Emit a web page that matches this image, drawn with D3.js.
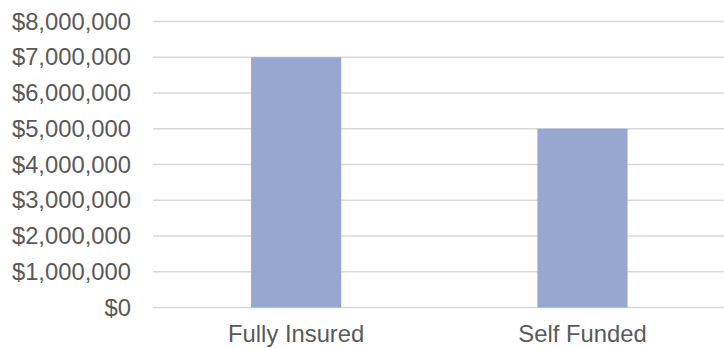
<!DOCTYPE html>
<html>
<head>
<meta charset="utf-8">
<script src="https://cdn.jsdelivr.net/npm/d3@7"></script>
<style>
  body { margin: 0; background: #fff; }
  text { font-family: "Liberation Sans", Arial, sans-serif; fill: #595959; }
</style>
</head>
<body>
<div id="chart"></div>
<script>
const categories = ['Fully Insured', 'Self Funded'];
const values = [7000000, 5000000];
const yTicks = [0, 1000000, 2000000, 3000000, 4000000, 5000000, 6000000, 7000000, 8000000];

const width = 724;
const height = 348;
const plot = { left: 153, right: 725.6, top: 21.5, bottom: 307.5 };

const svg = d3.select('#chart').append('svg')
  .attr('width', width)
  .attr('height', height);

const x = d3.scaleBand()
  .domain(categories)
  .range([plot.left, plot.right])
  .paddingInner(0.685)
  .paddingOuter(0.3425);

const y = d3.scaleLinear()
  .domain([0, 8000000])
  .range([plot.bottom, plot.top]);

const fmt = d3.format('$,');

// gridlines
svg.append('g')
  .selectAll('line')
  .data(yTicks)
  .join('line')
  .attr('x1', plot.left)
  .attr('x2', width)
  .attr('y1', d => y(d))
  .attr('y2', d => y(d))
  .attr('stroke', '#d9d9d9')
  .attr('stroke-width', 1.3);

// y axis labels
const yAxis = svg.append('g')
  .attr('transform', 'translate(131,0)')
  .call(d3.axisLeft(y).tickValues(yTicks).tickFormat(fmt).tickSize(0).tickPadding(0));
yAxis.select('.domain').remove();
yAxis.selectAll('text')
  .attr('font-size', 23.8)
  .attr('font-family', '"Liberation Sans", Arial, sans-serif')
  .attr('fill', '#595959');

// bars
svg.append('g')
  .selectAll('rect')
  .data(values)
  .join('rect')
  .attr('x', (d, i) => x(categories[i]))
  .attr('y', d => y(d))
  .attr('width', x.bandwidth())
  .attr('height', d => y(0) - y(d))
  .attr('fill', '#97a7cf');

// x axis labels
const xAxis = svg.append('g')
  .attr('transform', `translate(0,${plot.bottom})`)
  .call(d3.axisBottom(x).tickSize(0).tickPadding(18));
xAxis.select('.domain').remove();
xAxis.selectAll('text')
  .attr('font-size', 23.8)
  .attr('font-family', '"Liberation Sans", Arial, sans-serif')
  .attr('fill', '#595959');
</script>
</body>
</html>
